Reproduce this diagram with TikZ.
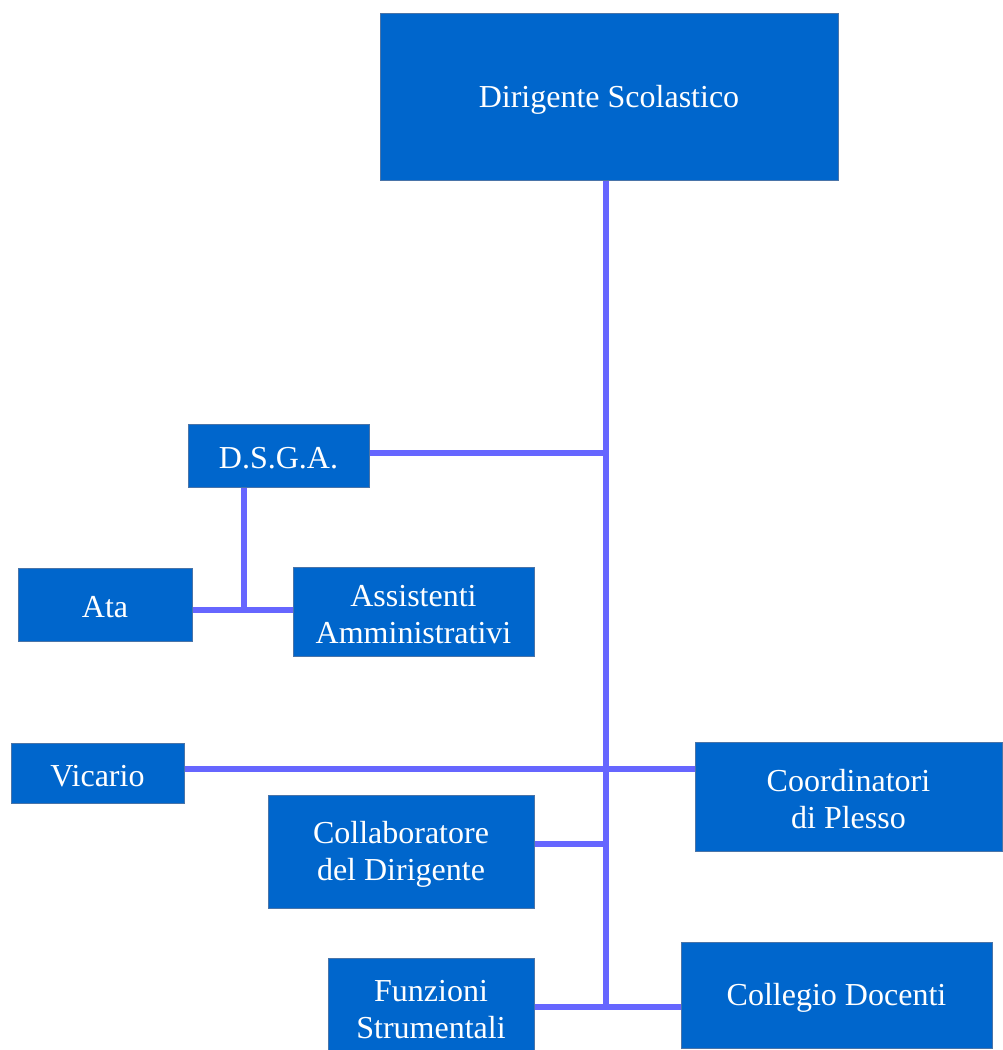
\documentclass[tikz,border=0pt]{standalone}
\usepackage{fontspec}
\setmainfont{Liberation Serif}
\definecolor{boxfill}{HTML}{0066CC}
\definecolor{boxline}{HTML}{4A74A8}
\definecolor{conn}{HTML}{6666FF}
\tikzset{
  boxtext/.style={text=white, inner sep=0pt, align=center, yshift=-3pt,
    font=\fontsize{32}{37}\selectfont},
  orgbox/.style={draw=boxline, line width=1pt, fill=boxfill, inner sep=0pt,
    label={[boxtext]center:#1}},
  link/.style={draw=conn, line width=6pt}
}
\begin{document}
\begin{tikzpicture}[x=1pt,y=-1pt]
\useasboundingbox[fill=white] (0,0) rectangle (1003,1050);
\coordinate (t0) at (606,180);
\coordinate (jd) at (606,453);
\coordinate (jv) at (606,769);
\coordinate (jc) at (606,844);
\coordinate (jf) at (606,1007);
\coordinate (a) at (244,610);

\node[orgbox={Dirigente Scolastico}, minimum width=458pt, minimum height=167pt] (top) at (609,96.5) {};
\node[orgbox={D.S.G.A.}, minimum width=181pt, minimum height=63pt] (dsga) at (278.5,455.5) {};
\node[orgbox={Ata}, minimum width=174pt, minimum height=73pt] (ata) at (105,604.5) {};
\node[orgbox={Assistenti\\Amministrativi}, minimum width=241pt, minimum height=89pt] (assist) at (413.5,611.5) {};
\node[orgbox={Vicario}, minimum width=173pt, minimum height=60pt] (vic) at (97.5,773) {};
\node[orgbox={Coordinatori\\di Plesso}, minimum width=307pt, minimum height=109pt] (coord) at (848.5,796.5) {};
\node[orgbox={Collaboratore\\del Dirigente}, minimum width=266pt, minimum height=113pt] (collab) at (401,851.5) {};
\node[orgbox={Funzioni\\Strumentali}, minimum width=206pt, minimum height=98pt] (funz) at (431,1007) {};
\node[orgbox={Collegio Docenti}, minimum width=311pt, minimum height=106pt] (coll) at (836.5,995) {};

\draw[link] (t0 |- top.south) -- (jf);
\draw[link] (dsga.east |- jd) -- (jd);
\draw[link] (a |- dsga.south) -- (a);
\draw[link] (ata.east |- a) -- (assist.west |- a);
\draw[link] (vic.east |- jv) -- (coord.west |- jv);
\draw[link] (collab.east |- jc) -- (jc);
\draw[link] (funz.east |- jf) -- (coll.west |- jf);
\end{tikzpicture}
\end{document}
